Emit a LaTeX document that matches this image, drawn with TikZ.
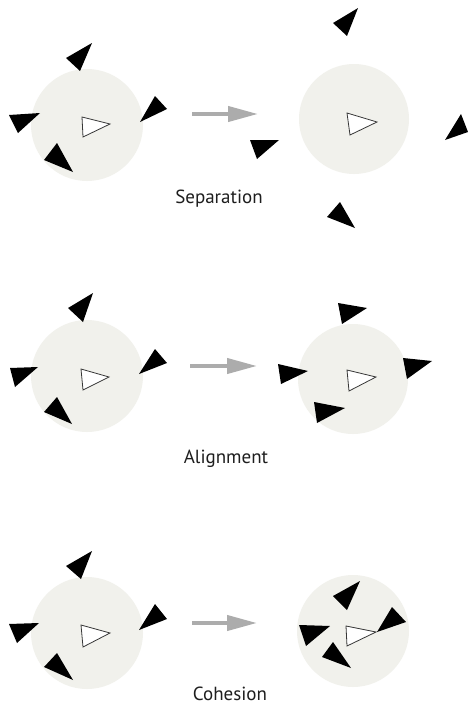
\documentclass[tikz,border=0pt]{standalone}
\usepackage{fontspec}
\setmainfont{PT Sans}
\usetikzlibrary{arrows.meta}
\definecolor{zonefill}{RGB}{241,241,236}
\definecolor{arrowgray}{RGB}{172,172,172}
\definecolor{outlinegray}{RGB}{55,55,55}
\definecolor{labeltext}{RGB}{30,30,30}
\tikzset{
  agentzone/.style={circle,fill=zonefill,draw=none,minimum size=112pt,inner sep=0pt},
  boid/.style={fill=black,draw=none},
  focusboid/.style={fill=white,draw=outlinegray,line width=0.8pt,line join=miter},
  flowarrow/.style={draw=arrowgray,line width=4pt,-{Triangle[length=30pt,width=15pt]}},
  rulelabel/.style={font=\fontsize{19}{21}\selectfont,text=labeltext,anchor=base,inner sep=0pt}
}
\begin{document}
\begin{tikzpicture}[x=1pt,y=-1pt]
\useasboundingbox (0,0) rectangle (468,704);
\fill[white] (0,0) rectangle (468,704);

% ---------- Row 1: Separation ----------
\node[agentzone] (z1l) at (87,125) {};
\node[agentzone,minimum size=110pt] (z1r) at (354,119) {};
\fill[boid] (92,43) -- (66,58) -- (80,71) -- cycle;
\fill[boid] (9,115) -- (40,113) -- (18,133) -- cycle;
\fill[boid] (155,96) -- (167,109) -- (140,122) -- cycle;
\fill[boid] (57,143) -- (73,172) -- (44,160) -- cycle;
\draw[focusboid] (82,117) -- (110,124) -- (83,137) -- cycle;

\fill[boid] (358,8) -- (333,23) -- (347,36) -- cycle;
\fill[boid] (461,114) -- (468,132) -- (445,140) -- cycle;
\fill[boid] (340,202) -- (355,228) -- (327,217) -- cycle;
\fill[boid] (250,140) -- (279,140) -- (257,159) -- cycle;
\draw[focusboid] (347,113) -- (377,122) -- (350,135) -- cycle;

\coordinate (a1s) at (192,114);
\coordinate (a1e) at (258,114);
\draw[flowarrow] (a1s) -- (a1e);
\node[rulelabel] (l1) at (219,203) {Separation};

% ---------- Row 2: Alignment ----------
\node[agentzone] (z2l) at (87,376) {};
\node[agentzone,minimum size=110pt] (z2r) at (353,379) {};
\fill[boid] (93,293) -- (68,308) -- (83,322) -- cycle;
\fill[boid] (10,368) -- (38,367) -- (15,387) -- cycle;
\fill[boid] (155,349) -- (167,363) -- (139,374) -- cycle;
\fill[boid] (57,397) -- (72,424) -- (44,412) -- cycle;
\draw[focusboid] (81,369) -- (109,377) -- (83,390) -- cycle;

\fill[boid] (338,303) -- (367,308) -- (342,324) -- cycle;
\fill[boid] (278,364) -- (308,371) -- (281,384) -- cycle;
\fill[boid] (403,358) -- (432,361) -- (407,379) -- cycle;
\fill[boid] (314,402) -- (345,408) -- (317,423) -- cycle;
\draw[focusboid] (347,370) -- (376,377) -- (349,391) -- cycle;

\coordinate (a2s) at (190,366);
\coordinate (a2e) at (257,366);
\draw[flowarrow] (a2s) -- (a2e);
\node[rulelabel] (l2) at (226,463) {Alignment};

% ---------- Row 3: Cohesion ----------
\node[agentzone] (z3l) at (87,633) {};
\node[agentzone] (z3r) at (353,631) {};
\fill[boid] (92,551) -- (66,566) -- (81,579) -- cycle;
\fill[boid] (9,624) -- (39,623) -- (17,643) -- cycle;
\fill[boid] (155,604) -- (167,619) -- (139,630) -- cycle;
\fill[boid] (57,653) -- (73,680) -- (44,667) -- cycle;
\draw[focusboid] (81,625) -- (110,633) -- (83,647) -- cycle;

\fill[boid] (360,581) -- (333,596) -- (347,610) -- cycle;
\fill[boid] (299,625) -- (330,626) -- (306,646) -- cycle;
\fill[boid] (333,642) -- (351,668) -- (322,657) -- cycle;
\fill[boid] (392,607) -- (406,622) -- (377,632) -- cycle;
\draw[focusboid] (346,626) -- (376,632) -- (347,646) -- cycle;

\coordinate (a3s) at (192,623);
\coordinate (a3e) at (257,623);
\draw[flowarrow] (a3s) -- (a3e);
\node[rulelabel] (l3) at (230,700) {Cohesion};
\end{tikzpicture}
\end{document}
